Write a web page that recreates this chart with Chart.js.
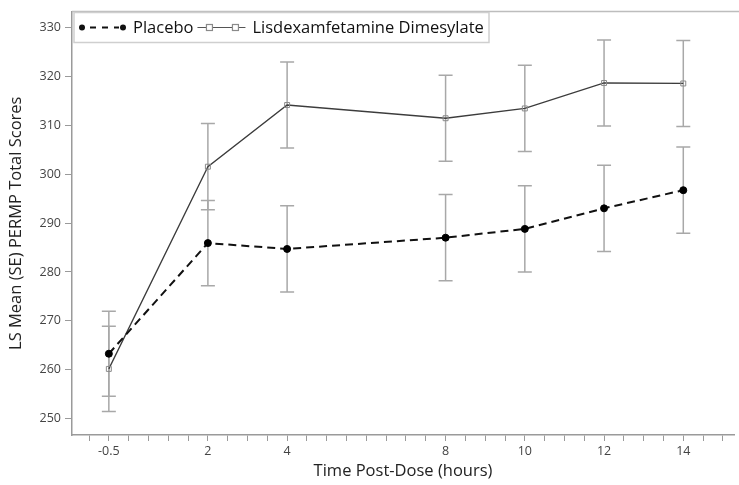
<!DOCTYPE html>
<html>
<head>
<meta charset="utf-8">
<script src="https://cdn.jsdelivr.net/npm/chart.js@4.4.1/dist/chart.umd.min.js"></script>
<style>
html,body{margin:0;padding:0;background:#fff;}
#wrap{width:739px;height:485px;position:relative;}
</style>
</head>
<body>
<div id="wrap"><canvas id="c" width="739" height="485"></canvas></div>
<script>
// ---- data ----
const times = [-0.5, 2, 4, 8, 10, 12, 14];
const timeLabels = ['-0.5', '2', '4', '8', '10', '12', '14'];
const placeboMean = [263.3, 285.9, 284.7, 287.0, 288.8, 293.0, 296.7];
const placeboSE = [8.7, 8.7, 8.8, 8.8, 8.8, 8.8, 8.8];
const ldxMean = [260.2, 301.5, 314.1, 311.4, 313.4, 318.6, 318.5];
const ldxSE = [8.7, 8.8, 8.8, 8.8, 8.8, 8.8, 8.8];
const yTicks = [250, 260, 270, 280, 290, 300, 310, 320, 330];
const seriesNames = ['Placebo', 'Lisdexamfetamine Dimesylate'];

const FONT = '"Open Sans", "Noto Sans", sans-serif';

// minor x ticks every 0.5 h
const xMinorTicks = [];
for (let v = -1; v <= 15.001; v += 0.5) xMinorTicks.push(Math.round(v * 10) / 10);

const errorBars = {
  id: 'errorBars',
  beforeDatasetsDraw(chart) {
    const {ctx, scales: {x, y}} = chart;
    const sets = [[placeboMean, placeboSE], [ldxMean, ldxSE]];
    ctx.save();
    ctx.strokeStyle = '#a8a8a8';
    ctx.lineWidth = 1.5;
    sets.forEach(([m, se]) => {
      times.forEach((t, i) => {
        const px = x.getPixelForValue(t);
        const top = y.getPixelForValue(m[i] + se[i]);
        const bot = y.getPixelForValue(m[i] - se[i]);
        ctx.beginPath();
        ctx.moveTo(px, top); ctx.lineTo(px, bot);
        ctx.moveTo(px - 7, top); ctx.lineTo(px + 7, top);
        ctx.moveTo(px - 7, bot); ctx.lineTo(px + 7, bot);
        ctx.stroke();
      });
    });
    ctx.restore();
  }
};

const frameAndLegend = {
  id: 'frameAndLegend',
  afterDraw(chart) {
    const {ctx, chartArea: ca} = chart;
    ctx.save();
    // top frame line
    ctx.strokeStyle = '#bdbdbd';
    ctx.lineWidth = 1.5;
    ctx.beginPath();
    ctx.moveTo(ca.left, ca.top); ctx.lineTo(chart.width, ca.top);
    ctx.stroke();

    // legend box
    const bx = ca.left + 2, by = ca.top + 1, bw = 415, bh = 30;
    ctx.fillStyle = '#fff';
    ctx.fillRect(bx, by, bw, bh);
    ctx.strokeStyle = '#cfcfcf';
    ctx.lineWidth = 1.5;
    ctx.strokeRect(bx, by, bw, bh);
    const cy = by + 15;
    ctx.font = '16.5px ' + FONT;
    ctx.textBaseline = 'middle';
    ctx.fillStyle = '#111';
    // placebo sample
    let x0 = bx + 8, x1 = bx + 49;
    ctx.strokeStyle = '#111';
    ctx.lineWidth = 2;
    ctx.setLineDash([6, 6]);
    ctx.beginPath(); ctx.moveTo(x0 + 8, cy); ctx.lineTo(x1 - 4, cy); ctx.stroke();
    ctx.setLineDash([]);
    [x0, x1].forEach(px => { ctx.beginPath(); ctx.arc(px, cy, 3, 0, Math.PI * 2); ctx.fill(); });
    ctx.fillText(seriesNames[0], x1 + 10, cy + 1);
    const w0 = ctx.measureText(seriesNames[0]).width;
    // ldx sample
    let lx0 = x1 + 10 + w0 + 4, lx1 = lx0 + 48;
    ctx.strokeStyle = '#555';
    ctx.lineWidth = 1.2;
    ctx.beginPath(); ctx.moveTo(lx0, cy); ctx.lineTo(lx1, cy); ctx.stroke();
    ctx.strokeStyle = '#8a8a8a';
    [lx0 + 12, lx0 + 38].forEach(px => {
      ctx.fillStyle = '#fff';
      ctx.fillRect(px - 3, cy - 3, 6, 6);
      ctx.strokeRect(px - 3, cy - 3, 6, 6);
    });
    ctx.fillStyle = '#111';
    ctx.fillText(seriesNames[1], lx1 + 7, cy + 1);
    ctx.restore();
  }
};

new Chart(document.getElementById('c'), {
  type: 'line',
  data: {
    datasets: [
      {
        label: seriesNames[0],
        data: times.map((t, i) => ({x: t, y: placeboMean[i]})),
        borderColor: '#111',
        borderWidth: 2,
        borderDash: [8, 5],
        pointStyle: 'circle',
        pointRadius: 3.5,
        pointBackgroundColor: '#000',
        pointBorderColor: '#000',
        pointBorderWidth: 1,
        tension: 0
      },
      {
        label: seriesNames[1],
        data: times.map((t, i) => ({x: t, y: ldxMean[i]})),
        borderColor: '#3c3c3c',
        borderWidth: 1.3,
        pointStyle: 'rect',
        pointRadius: 3.5,
        pointBackgroundColor: 'rgba(255,255,255,0)',
        pointBorderColor: '#8a8a8a',
        pointBorderWidth: 1,
        tension: 0
      }
    ]
  },
  options: {
    responsive: false,
    animation: false,
    layout: {padding: {top: 10, right: 0, left: 0, bottom: 0}},
    plugins: {legend: {display: false}, tooltip: {enabled: false}},
    scales: {
      x: {
        type: 'linear',
        min: -1.43,
        max: 15.28,
        afterBuildTicks(scale) { scale.ticks = xMinorTicks.map(v => ({value: v})); },
        afterFit(scale) { scale.height = 50; },
        grid: {drawOnChartArea: false, drawTicks: true, tickLength: 6, color: '#9a9a9a', lineWidth: 1},
        border: {display: true, color: '#9a9a9a', width: 1.5},
        ticks: {
          autoSkip: false, maxRotation: 0, padding: 3,
          color: '#444', font: {family: FONT, size: 12.5},
          callback(v) { const i = times.indexOf(v); return i >= 0 ? timeLabels[i] : ''; }
        },
        title: {display: true, text: 'Time Post-Dose (hours)', color: '#222',
          font: {family: FONT, size: 16.5}, padding: {top: 4, bottom: 4}}
      },
      y: {
        type: 'linear',
        min: 246.7,
        max: 333.2,
        afterBuildTicks(scale) { scale.ticks = yTicks.map(v => ({value: v})); },
        afterFit(scale) { scale.width = 72; },
        grid: {drawOnChartArea: false, drawTicks: true, tickLength: 7, color: '#9a9a9a'},
        border: {display: true, color: '#9a9a9a', width: 1.5},
        ticks: {color: '#444', font: {family: FONT, size: 12.5}, padding: 4},
        title: {display: true, text: 'LS Mean (SE) PERMP Total Scores', color: '#222',
          font: {family: FONT, size: 16.5}, padding: {top: 6, bottom: 4}}
      }
    }
  },
  plugins: [errorBars, frameAndLegend]
});
</script>
</body>
</html>
